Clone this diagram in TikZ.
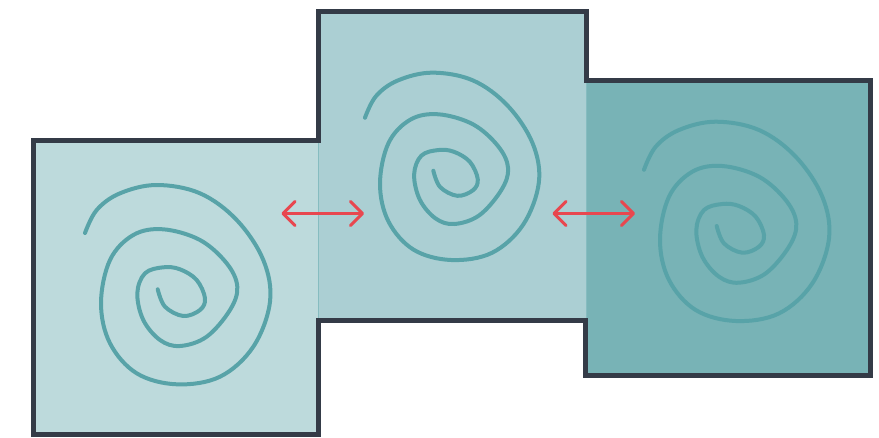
\documentclass[tikz,border=0pt]{standalone}
\usetikzlibrary{arrows.meta}
\definecolor{outlinec}{HTML}{343B47}
\definecolor{fillA}{HTML}{BDDADC}
\definecolor{fillB}{HTML}{ABCFD3}
\definecolor{fillC}{HTML}{78B3B6}
\definecolor{sepc}{HTML}{86BCC0}
\definecolor{spiralc}{HTML}{58A3A8}
\definecolor{arrowc}{HTML}{E8474F}
\tikzset{
  spiralline/.style={draw=spiralc,line width=4pt,line cap=round,line join=round},
  spiral/.pic={\path[spiralline] plot[smooth,tension=0.6] coordinates {
    (0,0) (7.3,17.4) (25.6,26.7) (42.3,20.7) (47.3,9) (39,-9.3) (22.3,-20)
    (5.6,-22) (-12.7,-16) (-20.4,4) (-14.4,30.7) (2.3,50.7) (22.3,56.7)
    (49,47.4) (72.3,20.7) (79.6,-2.6) (69,-26) (42.3,-49.3) (5.6,-60)
    (-24.4,-54.3) (-47.7,-29.3) (-56.7,14) (-47.7,54) (-21,84) (19,95)
    (62.3,87.4) (95.6,57.4) (112.3,12.4) (105.6,-29.3) (79,-69.3)
    (42.3,-96) (-1,-104.3) (-37.7,-96) (-61,-79.3) (-72.7,-56.3)};},
  swaparrow/.style={draw=arrowc,line width=3pt,
    arrows={Straight Barb[length=12pt,width=24pt,line cap=round,line join=round]-Straight Barb[length=12pt,width=24pt,line cap=round,line join=round]}},
  border/.style={draw=outlinec,line width=5pt,line join=miter},
  sepline/.style={draw=sepc,line width=1pt}
}
\begin{document}
\begin{tikzpicture}[x=1pt,y=-1pt]
\useasboundingbox (0,0) rectangle (879,437);
% fills
\fill[fillA] (33,140.5) rectangle (318,434.5);
\fill[fillB] (318,11) rectangle (586,320);
\fill[fillC] (586,80.5) rectangle (870.5,375.5);
% separators
\coordinate (s1a) at (318,140.5); \coordinate (s1b) at (318,320);
\coordinate (s2a) at (586,80.5); \coordinate (s2b) at (586,320);
\draw[sepline] (s1a) -- (s1b);
\draw[sepline] (s2a) -- (s2b);
% spirals
\pic at (157.7,289.3) {spiral};
\pic[scale=0.94] at (433.3,170.7) {spiral};
\pic at (716.7,226) {spiral};
% arrows
\coordinate (a1l) at (281.5,213.5); \coordinate (a1r) at (364,213.5);
\coordinate (a2l) at (552.5,213.5); \coordinate (a2r) at (635,213.5);
\draw[swaparrow] (a1l) -- (a1r);
\draw[swaparrow] (a2l) -- (a2r);
% outline
\draw[border] (33,140.5) -- (318,140.5) -- (318,11) -- (586,11) -- (586,80.5)
  -- (870.5,80.5) -- (870.5,375.5) -- (585,375.5) -- (585,320) -- (318,320)
  -- (318,434.5) -- (33,434.5) -- cycle;
\end{tikzpicture}
\end{document}
